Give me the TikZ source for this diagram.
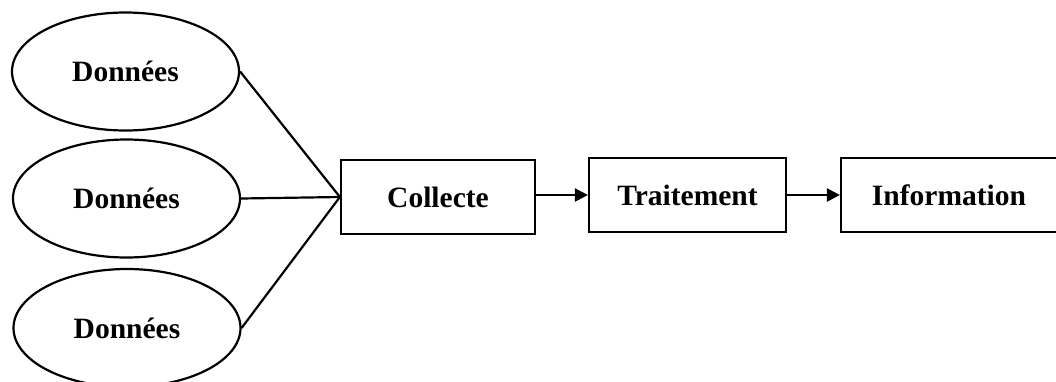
\documentclass[tikz,border=0pt]{standalone}
\usepackage{fontspec}
\setmainfont{Liberation Serif}
\usetikzlibrary{shapes.geometric,arrows.meta}
\begin{document}
\begin{tikzpicture}[x=1pt,y=-1pt,
  lw/.style={line width=2.2pt},
  datum/.style={ellipse,draw,lw,inner sep=0pt,minimum width=227pt,minimum height=118pt,
    font=\bfseries\fontsize{29.5}{31}\selectfont},
  stage/.style={rectangle,draw,lw,inner sep=0pt,minimum height=74pt,
    font=\bfseries\fontsize{29.5}{31}\selectfont},
  link/.style={lw},
  flow/.style={lw,-{Triangle[length=13pt,width=13pt]}}]
\useasboundingbox (0,0) rectangle (1056,381);

% data sources
\node[datum] (d1) at (125.5,71.5) {Données};
\node[datum] (d2) at (126.5,198.5) {Données};
\node[datum] (d3) at (127,328) {Données};

% processing chain
\node[stage,minimum width=194pt] (col) at (438,197) {Collecte};
\node[stage,minimum width=197pt] (trt) at (687.5,195) {Traitement};
\node[stage,minimum width=216pt] (inf) at (949,195) {Information};

% sources converge on the collection step
\coordinate (join) at (col.west);
\draw[link] (d1.east) -- (join);
\draw[link] (d2.east) -- (join);
\draw[link] (d3.east) -- (join);

% flow between steps
\draw[flow] (col.east |- trt.west) -- (trt.west);
\draw[flow] (trt.east) -- (inf.west);
\end{tikzpicture}
\end{document}
